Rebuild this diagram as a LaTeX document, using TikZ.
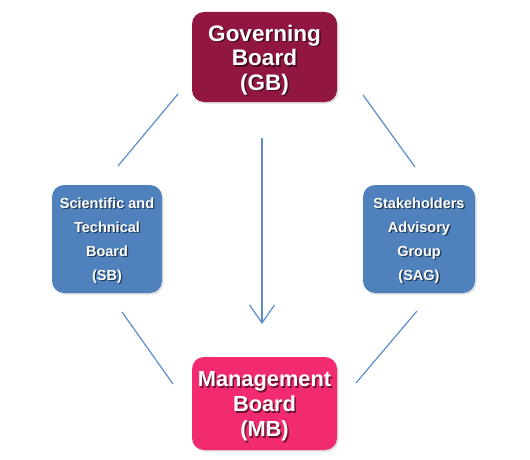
\documentclass[tikz,border=0pt]{standalone}
\usepackage{fontspec}
\setmainfont{Liberation Sans}
\usetikzlibrary{arrows.meta,shadows}
\definecolor{gbcol}{RGB}{146,22,66}
\definecolor{mbcol}{RGB}{242,43,112}
\definecolor{sidecol}{RGB}{79,129,189}
\definecolor{linecol}{RGB}{90,140,204}
\begin{document}
\begin{tikzpicture}[x=1pt,y=-1pt,
  box/.style={rounded corners=12pt, inner sep=0pt, draw=none,
    drop shadow={opacity=0.25, shadow xshift=1.5pt, shadow yshift=-1.5pt}},
  bigtxt/.style={font=\bfseries\fontsize{22.5}{24.5}\selectfont, align=center, text=white, inner sep=0pt},
  mbtxt/.style={font=\bfseries\fontsize{21.8}{25}\selectfont, align=center, text=white, inner sep=0pt},
  smalltxt/.style={font=\bfseries\fontsize{14.5}{24}\selectfont, align=center, text=white, inner sep=0pt},
  shade txt/.style={text=black, text opacity=0.55},
  conn/.style={draw=linecol, line width=1.2pt}]
\useasboundingbox (0,0) rectangle (530,460);
% boxes
\node[box, fill=gbcol, minimum width=145pt, minimum height=90pt] (gb) at (264.5,57) {};
\node[box, fill=mbcol, minimum width=145pt, minimum height=93pt] (mb) at (264.5,403.5) {};
\node[box, fill=sidecol, minimum width=110pt, minimum height=108pt] (sb) at (107,239) {};
\node[box, fill=sidecol, minimum width=112pt, minimum height=108pt] (sag) at (419,239) {};
% text shadows
\node[bigtxt, shade txt] (gbs) at (266,61.5) {Governing\\Board\\(GB)};
\node[mbtxt, shade txt] (mbs) at (266,408) {Management\\Board\\(MB)};
\node[smalltxt, shade txt] (sbs) at (108.3,242) {Scientific and\\Technical\\Board\\(SB)};
\node[smalltxt, shade txt] (sags) at (420.3,242) {Stakeholders\\Advisory\\Group\\(SAG)};
% texts
\node[bigtxt] (gbt) at (264.5,60) {Governing\\Board\\(GB)};
\node[mbtxt] (mbt) at (264.5,406.5) {Management\\Board\\(MB)};
\node[smalltxt] (sbt) at (107,240.7) {Scientific and\\Technical\\Board\\(SB)};
\node[smalltxt] (sagt) at (419,240.7) {Stakeholders\\Advisory\\Group\\(SAG)};
% connectors
\coordinate (tl1) at (178,94);  \coordinate (tl2) at (118,166);
\coordinate (tr1) at (363,95);  \coordinate (tr2) at (415,167);
\coordinate (bl1) at (122,312); \coordinate (bl2) at (173,384);
\coordinate (br1) at (417,311); \coordinate (br2) at (356,383);
\coordinate (a1) at (262,138);  \coordinate (a2) at (262,324);
\draw[conn] (tl1) -- (tl2);
\draw[conn] (tr1) -- (tr2);
\draw[conn] (bl1) -- (bl2);
\draw[conn] (br1) -- (br2);
\draw[conn, -{Straight Barb[length=18pt,width=25pt,line width=1.2pt]}] (a1) -- (a2);
\end{tikzpicture}
\end{document}
